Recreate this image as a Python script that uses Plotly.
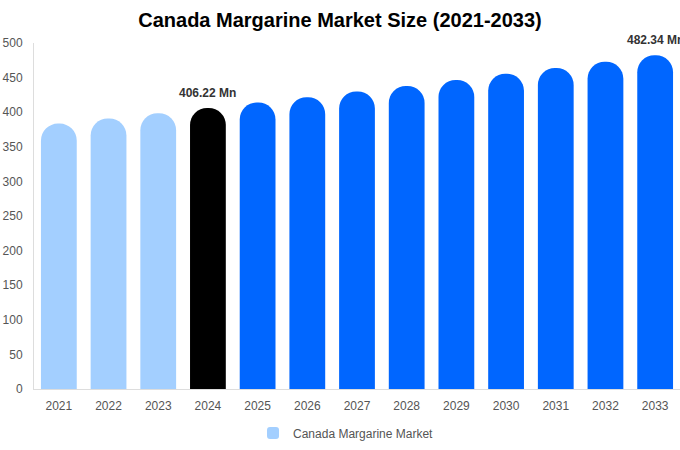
import plotly.graph_objects as go

# market size by year, USD million
years = ["2021", "2022", "2023", "2024", "2025", "2026", "2027",
         "2028", "2029", "2030", "2031", "2032", "2033"]
sizes = [383.5, 391.0, 398.5, 406.22, 414.0, 421.5, 430.0,
         438.0, 446.5, 455.5, 464.0, 473.0, 482.34]
bar_colors = ["#a3cfff"] * 3 + ["#000000"] + ["#0066ff"] * 9
labelled_years = ["2024", "2033"]

fig = go.Figure()
fig.add_trace(go.Bar(
    x=years,
    y=sizes,
    name="Canada Margarine Market",
    marker=dict(color=bar_colors, cornerradius="50%", line=dict(width=0)),
    showlegend=True,
))

for yr in labelled_years:
    i = years.index(yr)
    # category axis: place by index, a "2024" string would be read as position 2024
    fig.add_annotation(
        x=i, y=sizes[i], text=f"<b>{sizes[i]:.2f} Mn</b>", showarrow=False,
        yanchor="bottom", yshift=6,
        font=dict(size=12, color="#333333", family="Liberation Sans, Arial"),
    )

fig.update_layout(
    width=680, height=450,
    title=dict(text="<b>Canada Margarine Market Size (2021-2033)</b>",
               x=0.5, xanchor="center", yref="container",
               y=1 - 20 / 450, yanchor="middle",
               font=dict(size=20, color="#000000")),
    font=dict(family="Liberation Sans, Arial", size=12, color="#555555"),
    plot_bgcolor="white", paper_bgcolor="white",
    margin=dict(l=34, r=0, t=43, b=61),
    bargap=0.28,
    xaxis=dict(type="category", range=[-0.5, len(years) - 0.5],
               showline=True, linecolor="#dddddd", linewidth=1,
               showgrid=False, ticks="", ticklabelstandoff=6,
               automargin=False, tickfont=dict(color="#555555")),
    yaxis=dict(range=[0, 500], dtick=50, showline=True, linecolor="#dddddd",
               linewidth=1, showgrid=False, zeroline=False, ticks="",
               ticklabelstandoff=8, automargin=False,
               tickfont=dict(color="#555555")),
    legend=dict(orientation="h", x=0.483, xanchor="center", y=-0.085,
                yanchor="top", font=dict(size=12, color="#555555")),
)

# drop the default 8px body margin so the chart fills the window
fig.write_html("out.html", config={"displayModeBar": False},
               post_script="document.body.style.margin='0';")
